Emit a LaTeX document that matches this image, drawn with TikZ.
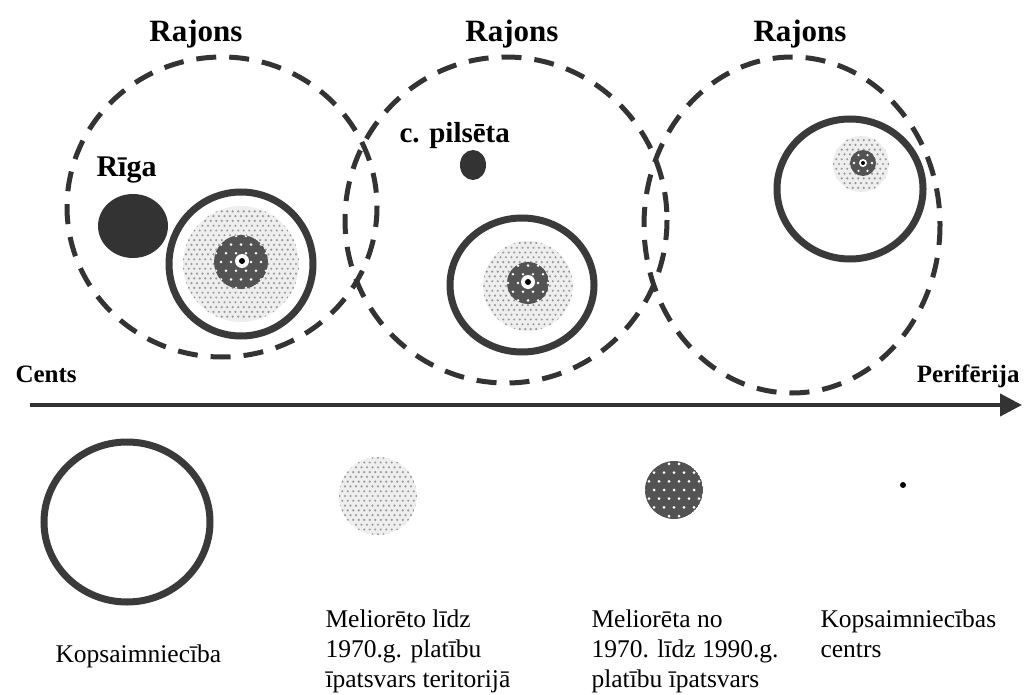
\documentclass[tikz,border=0pt]{standalone}
\usepackage{fontspec}
\setmainfont{Liberation Serif}
\usetikzlibrary{arrows.meta}
\definecolor{ink}{HTML}{333333}
\definecolor{ring}{HTML}{3A3A3A}
\definecolor{darkfill}{HTML}{535353}
\definecolor{lightbg}{HTML}{EEEEEE}
\definecolor{lightdot}{HTML}{999999}
\newcommand\dotdisc[7]{%
  \begin{scope}
    \clip (#1,#2) circle (#3);
    \fill[#4] (#1,#2) circle (#3);
    \pgfmathtruncatemacro\nn{#3/#6+1}
    \foreach \j in {-\nn,...,\nn}{
      \foreach \i in {-\nn,...,\nn}{
        \fill[#5] ({#1+\i*#6+mod(abs(\j),2)*#6/2},{#2+\j*#6*0.87}) circle (#7);
      }
    }
  \end{scope}}
\newcommand\centremark[2]{%
  \fill[white] (#1,#2) circle (7);
  \fill[black] (#1,#2) circle (3);}
\begin{document}
\begin{tikzpicture}[x=1pt,y=-1pt,
  region/.style={draw=ink,line width=5pt,dash pattern=on 20pt off 13pt},
  farm/.style={draw=ring,line width=7pt},
  title/.style={font=\fontsize{31}{33}\selectfont\bfseries,anchor=base},
  place/.style={font=\fontsize{30}{32}\selectfont\bfseries,anchor=base west},
  axislabel/.style={font=\fontsize{25}{27}\selectfont\bfseries},
  legend/.style={font=\fontsize{25.5}{30}\selectfont,anchor=base west,align=left}]
\useasboundingbox (0,0) rectangle (1027,695);
% district circles
\draw[region] (222,207) ellipse [x radius=155, y radius=150];
\draw[region] (506,220) ellipse [x radius=161, y radius=163];
\draw[region] (792,225) ellipse [x radius=148, y radius=168];
% titles
\node[title] (r1) at (196,42) {Rajons};
\node[title] (r2) at (512,42) {Rajons};
\node[title] (r3) at (800,42) {Rajons};
\node[place] (riga) at (93,176) {Rīga};
\node[place,font=\fontsize{29}{31}\selectfont\bfseries] (city) at (396,143) {c. pilsēta};
% Riga
\fill[ink] (133,226) ellipse [x radius=35, y radius=32];
% city
\fill[ink] (473,165) ellipse [x radius=13, y radius=15];
% farm 1
\dotdisc{241}{264}{58}{lightbg}{lightdot}{5.5}{1.2}
\dotdisc{241}{262}{27}{darkfill}{white}{10}{1.4}
\centremark{242}{261}
\draw[farm] (241,264) circle (72);
% farm 2
\dotdisc{528}{286}{45}{lightbg}{lightdot}{5.5}{1.2}
\dotdisc{528}{283}{21}{darkfill}{white}{10}{1.4}
\centremark{528}{282}
\draw[farm] (522,285) ellipse [x radius=72, y radius=67];
% farm 3
\dotdisc{861}{164}{28}{lightbg}{lightdot}{5.5}{1.2}
\dotdisc{863}{163}{13}{darkfill}{white}{9}{1.3}
\fill[white] (863,163) circle (4);
\fill[black] (863,163) circle (2);
\draw[farm] (850,189) ellipse [x radius=73, y radius=70];
% axis
\node[axislabel,anchor=base west] (cents) at (12,382) {Cents};
\node[axislabel,anchor=base east] (peri) at (1023,382) {Perifērija};
\coordinate (a0) at (30,405);
\coordinate (a1) at (1022,405);
\draw[ink,line width=4pt,-{Triangle[length=22pt,width=22pt]}] (a0) -- (a1);
% legend
\draw[farm] (127,522) ellipse [x radius=83, y radius=80];
\dotdisc{378}{496}{39}{lightbg}{lightdot}{5.5}{1.2}
\dotdisc{674}{490}{29}{darkfill}{white}{10}{1.5}
\fill[black] (903,485) circle (3);
\node[legend] (l1) at (52,662) {Kopsaimniecība};
\node[legend] (l2) at (322,687) {Meliorēto līdz\\1970.g. platību\\īpatsvars teritorijā};
\node[legend] (l3) at (588,687) {Meliorēta no\\1970. līdz 1990.g.\\platību īpatsvars};
\node[legend] (l4) at (817,657) {Kopsaimniecības\\centrs};
\end{tikzpicture}
\end{document}
